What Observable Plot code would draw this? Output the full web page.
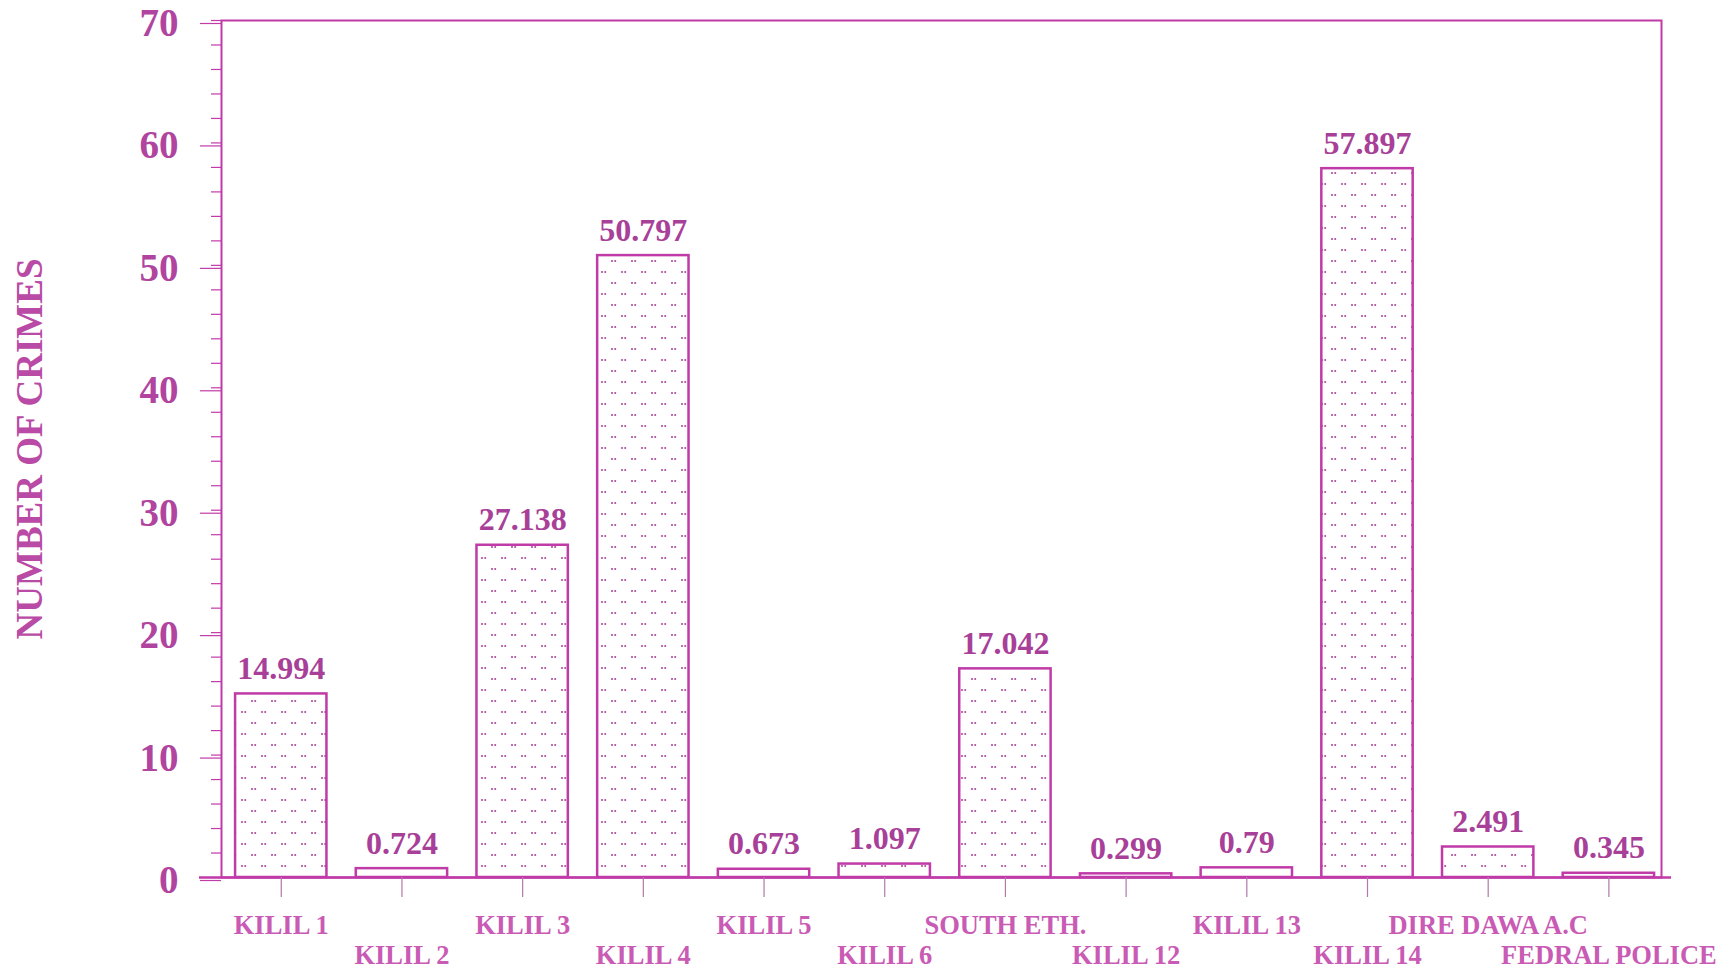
<!DOCTYPE html>
<html>
<head>
<meta charset="utf-8">
<script src="https://cdn.jsdelivr.net/npm/d3@7"></script>
<script src="https://cdn.jsdelivr.net/npm/@observablehq/plot@0.6"></script>
<style>
  html, body { margin: 0; padding: 0; background: #fff; }
  #chart svg { display: block; }
</style>
</head>
<body>
<div id="chart"></div>
<script>
const categories = ["KILIL 1", "KILIL 2", "KILIL 3", "KILIL 4", "KILIL 5", "KILIL 6",
  "SOUTH ETH.", "KILIL 12", "KILIL 13", "KILIL 14", "DIRE DAWA A.C", "FEDRAL POLICE"];
const values = [14.994, 0.724, 27.138, 50.797, 0.673, 1.097, 17.042, 0.299, 0.79, 57.897, 2.491, 0.345];
const majorTicks = [0, 10, 20, 30, 40, 50, 60, 70];
const minorTicks = d3.range(0, 71, 2);
const yLabel = "NUMBER OF CRIMES";

const data = categories.map((c, i) => ({cat: c, value: values[i], row: i % 2}));

const LINE = "#c03aa8";
const FONT = "'Liberation Serif', 'Times New Roman', serif";

const plot = Plot.plot({
  width: 1729,
  height: 972,
  marginTop: 20,
  marginBottom: 95,
  marginLeft: 221,
  marginRight: 68,
  style: {fontFamily: FONT, fontWeight: "bold", background: "#fff"},
  x: {domain: categories, paddingInner: 0.243, paddingOuter: 0.087, align: 0.67, round: false},
  y: {domain: [0, 70]},
  marks: [
    Plot.frame({stroke: LINE, strokeWidth: 2}),
    Plot.barY(data, {x: "cat", y: "value", fill: "url(#dots)", stroke: LINE, strokeWidth: 2.5}),
    Plot.ruleY([0], {stroke: LINE, strokeWidth: 2.5, insetLeft: -22, insetRight: -10}),
    Plot.axisY({ticks: minorTicks, tickSize: 10, text: null, stroke: LINE, strokeWidth: 1.2, label: null}),
    Plot.axisY({ticks: majorTicks, tickSize: 21, tickPadding: 22, stroke: LINE, strokeWidth: 1.2,
      fill: "#b0449f", fontSize: 39, dy: 3, label: null}),
    Plot.axisX({tickSize: 20, text: null, stroke: "#b07aa8", strokeWidth: 1.2, label: null}),
    Plot.text(data.filter(d => d.row === 0), {x: "cat", text: "cat", frameAnchor: "bottom", lineAnchor: "bottom",
      dy: 56, fontSize: 26.5, fill: "#c95bb5"}),
    Plot.text(data.filter(d => d.row === 1), {x: "cat", text: "cat", frameAnchor: "bottom", lineAnchor: "bottom",
      dy: 86, fontSize: 26.5, fill: "#c95bb5"}),
    Plot.text(data, {x: "cat", y: "value", text: d => String(d.value), lineAnchor: "bottom", dy: -15,
      fontSize: 32, fill: "#a83f98"}),
    Plot.text([yLabel], {frameAnchor: "left", textAnchor: "middle", dx: -191, rotate: -90, fontSize: 37, fill: "#b94aa5"})
  ]
});

const svg = d3.select(plot);
const defs = svg.insert("defs", ":first-child");
const pat = defs.append("pattern")
  .attr("id", "dots")
  .attr("patternUnits", "userSpaceOnUse")
  .attr("width", 20)
  .attr("height", 22);
pat.append("rect").attr("width", 20).attr("height", 22).attr("fill", "#fff");
[[2, 8], [5.2, 8], [12, 19], [15.2, 19]].forEach(([cx, cy]) => {
  pat.append("circle").attr("cx", cx).attr("cy", cy).attr("r", 1.05).attr("fill", "#b04a9f");
});

document.getElementById("chart").appendChild(plot);
</script>
</body>
</html>
